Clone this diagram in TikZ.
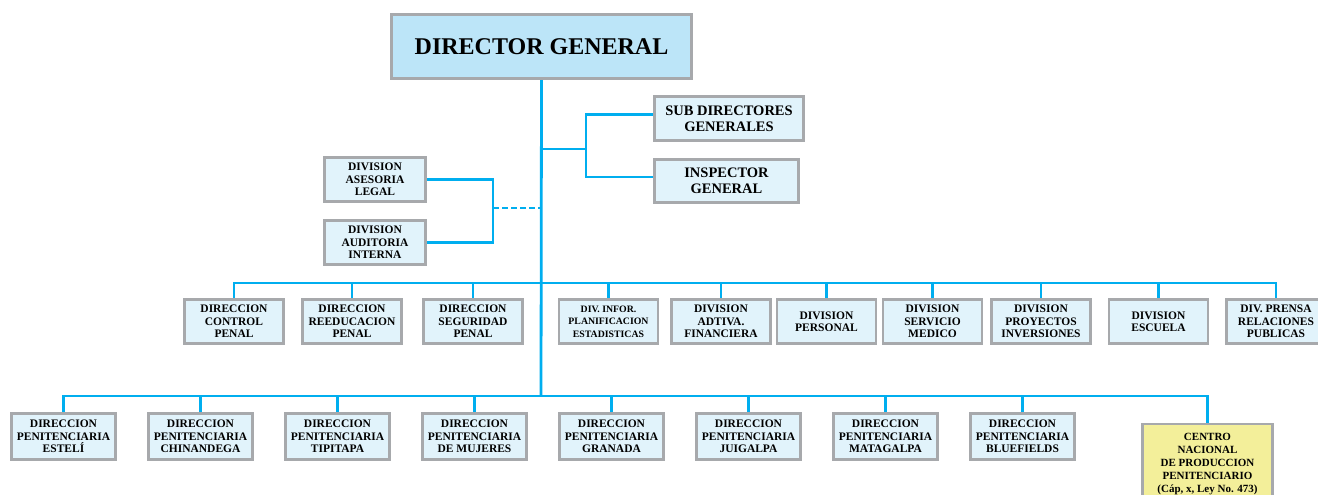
\documentclass[tikz,border=0pt]{standalone}
\usepackage{fontspec}
\setmainfont{Liberation Serif}
\usetikzlibrary{backgrounds}
\definecolor{linkblue}{HTML}{00AEEF}
\definecolor{boxgray}{HTML}{A7A9AC}
\definecolor{boxfill}{HTML}{E1F3FB}
\definecolor{headfill}{HTML}{BCE5F8}
\definecolor{centrofill}{HTML}{F3EF9A}
\tikzset{
	link/.style={linkblue, line width=2.8pt},
	orgbox/.style={draw=boxgray, line width=2.8pt, fill=boxfill, align=center, inner sep=1pt,
		font=\bfseries\fontsize{11.5}{12.5}\selectfont},
	rowone/.style={orgbox, minimum width=99pt, minimum height=44pt},
	rowtwo/.style={orgbox, minimum width=104pt, minimum height=46pt},
}
\begin{document}
\begin{tikzpicture}[x=1pt, y=-1pt]
	\useasboundingbox (0,0) rectangle (1318,495);
	% top
	\node[orgbox, fill=headfill, minimum width=300pt, minimum height=64pt,
		font=\bfseries\fontsize{24}{26}\selectfont] (dg) at (541.5,46.5) {DIRECTOR GENERAL};
	\node[orgbox, minimum width=149pt, minimum height=44pt, font=\bfseries\fontsize{14.5}{16}\selectfont]
		(sub) at (729,118.5) {SUB DIRECTORES\\GENERALES};
	\node[orgbox, minimum width=144pt, minimum height=43pt, font=\bfseries\fontsize{14.5}{16}\selectfont]
		(insp) at (726.5,181) {INSPECTOR\\GENERAL};
	\node[orgbox, minimum width=101pt, minimum height=44pt] (asesoria) at (375,179.5) {DIVISION\\ASESORIA\\LEGAL};
	\node[orgbox, minimum width=101pt, minimum height=44pt] (auditoria) at (375,242.5) {DIVISION\\AUDITORIA\\INTERNA};
	\coordinate (subhub) at (586,149);
	\coordinate (leghub) at (493,208);
	\coordinate (hub1) at (541,283);
	\coordinate (hub2) at (541,396);
	% first row
	\foreach \name/\x/\txt in {ctrl/234/{DIRECCION\\CONTROL\\PENAL}, reed/352/{DIRECCION\\REEDUCACION\\PENAL},
		segu/473/{DIRECCION\\SEGURIDAD\\PENAL}, adtiva/721/{DIVISION\\ADTIVA.\\FINANCIERA},
		pers/826.5/{DIVISION\\PERSONAL}, medico/932.5/{DIVISION\\SERVICIO\\MEDICO},
		proy/1041/{DIVISION\\PROYECTOS\\INVERSIONES}, escuela/1158.5/{DIVISION\\ESCUELA},
		prensa/1276/{DIV. PRENSA\\RELACIONES\\PUBLICAS}} {
		\node[rowone] (\name) at (\x,321.5) {\txt};
	}
	\node[rowone, font=\bfseries\fontsize{9.8}{12.5}\selectfont] (infor) at (608.5,321.5)
		{DIV. INFOR.\\PLANIFICACION\\ESTADISTICAS};
	% second row
	\foreach \name/\place [count=\i from 0] in {esteli/ESTELÍ, chinandega/CHINANDEGA, tipitapa/TIPITAPA,
		mujeres/DE MUJERES, granada/GRANADA, juigalpa/JUIGALPA, matagalpa/MATAGALPA, bluefields/BLUEFIELDS} {
		\node[rowtwo] (\name) at ({63.5+137*\i},436.5) {DIRECCION\\PENITENCIARIA\\\place};
	}
	\node[orgbox, fill=centrofill, minimum width=130pt, minimum height=80pt,
		font=\bfseries\fontsize{11}{13}\selectfont] (centro) at (1207.5,464)
		{CENTRO\\NACIONAL\\DE PRODUCCION\\PENITENCIARIO\\(Cáp, x, Ley No. 473)};
	% connectors
	\begin{scope}[on background layer]
		\draw[link] (dg.south) -- (hub2);
		\draw[link] (dg.south |- subhub) -- (subhub);
		\draw[link] ([yshift=4pt]sub.west) -| (subhub);
		\draw[link] ([yshift=4pt]insp.west) -| (subhub);
		\draw[link] (asesoria.east) -| (leghub);
		\draw[link] (auditoria.east) -| (leghub);
		\draw[link, dash pattern=on 6pt off 3pt] (leghub) -- (dg.south |- leghub);
		\foreach \name in {ctrl,reed,segu,infor,adtiva,pers,medico,proy,escuela,prensa}
			\draw[link] (\name.north) |- (hub1);
		\foreach \name in {esteli,chinandega,tipitapa,mujeres,granada,juigalpa,matagalpa,bluefields,centro}
			\draw[link] (\name.north) |- (hub2);
	\end{scope}
\end{tikzpicture}
\end{document}
